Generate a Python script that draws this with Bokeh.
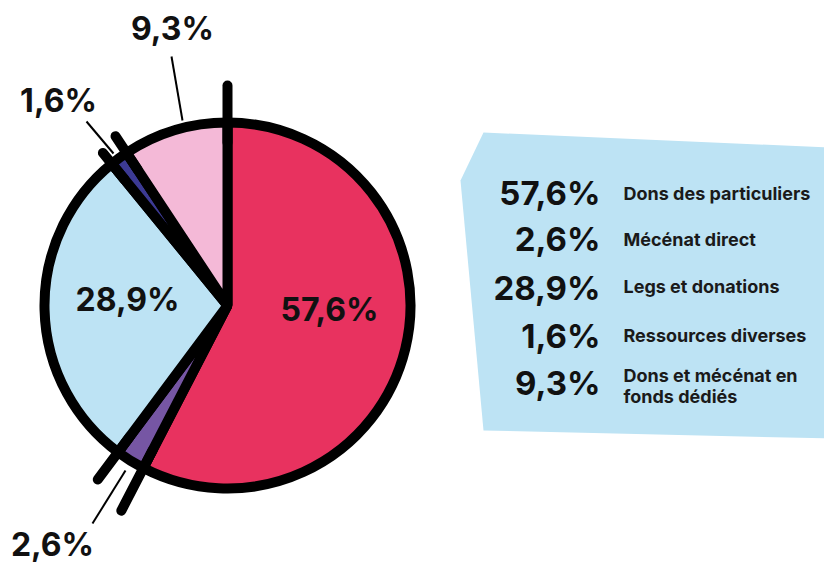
import math
from bokeh.plotting import figure
from bokeh.models import Range1d
from bokeh.core.properties import value
from bokeh.embed import file_html
from bokeh.resources import INLINE

# ---------------- data ----------------
values = [57.6, 2.6, 28.9, 1.6, 9.3]
pct_labels = ["57,6%", "2,6%", "28,9%", "1,6%", "9,3%"]
categories = ["Dons des particuliers", "Mécénat direct", "Legs et donations",
              "Ressources  diverses", "Dons et mécénat en\nfonds dédiés"]
colors = ["#e8325f", "#7656a4", "#bde3f4", "#3c3a94", "#f4b9d7"]

# ---------------- layout (image pixel coords, y down) ----------------
W, H = 824, 563
def Y(y):
    return H - y

FONT = value("Inter")
p = figure(width=W, height=H, x_range=Range1d(0, W), y_range=Range1d(0, H),
           output_backend="svg", toolbar_location=None, min_border=0)
p.axis.visible = False
p.grid.visible = False
p.outline_line_color = None
p.background_fill_color = "white"
p.border_fill_color = "white"

cx, cy, R = 227, Y(305), 183

# legend background polygon
p.patch([483, 830, 830, 483, 460], [Y(132), Y(147), Y(438), Y(430), Y(180)],
        fill_color="#bde3f4", line_color=None)

# wedges
cum = [0]
for v in values:
    cum.append(cum[-1] + v)
total = cum[-1]
starts = [math.pi / 2 - 2 * math.pi * c / total for c in cum[:-1]]
ends = [math.pi / 2 - 2 * math.pi * c / total for c in cum[1:]]
p.wedge(x=cx, y=cy, radius=R, start_angle=starts, end_angle=ends, direction="clock",
        fill_color=colors, line_color="black", line_width=10)

# spikes at boundaries
spike_len = [220, 231, 217, 197, 203]
bx0, by0, bx1, by1 = [], [], [], []
for c, L in zip(cum[:-1], spike_len):
    a = math.pi / 2 - 2 * math.pi * c / total
    bx0.append(cx + (R - 20) * math.cos(a)); by0.append(cy + (R - 20) * math.sin(a))
    bx1.append(cx + L * math.cos(a)); by1.append(cy + L * math.sin(a))
p.segment(bx0, by0, bx1, by1, line_color="black", line_width=10, line_cap="round")

# leader lines for small slices (annotation)
p.segment([182, 113, 125], [Y(120), Y(153), Y(470)], [171, 86, 92], [Y(56), Y(121), Y(523)],
          line_color="black", line_width=2)

# pie labels (y = visual centre of the glyphs)
lab_x = [329, 52, 127, 58, 172]
lab_y = [Y(309), Y(544), Y(299), Y(100), Y(28)]
p.text(x=lab_x, y=lab_y, text=pct_labels, text_font=FONT, text_font_style="bold",
       text_font_size="32px", text_align="center", text_baseline="alphabetic",
       text_color="#111111")

# legend
pct_base = [192, 238, 287, 335, 382]
p.text(x=[600] * 5, y=[Y(b) for b in pct_base], text=pct_labels, text_font=FONT,
       text_font_style="bold", text_font_size="33px", text_align="right",
       text_baseline="alphabetic", text_color="#111111")

cat_base = [193, 239, 286, 335, 375]
tx, ty, tt = [], [], []
for b, c in zip(cat_base, categories):
    for i, line in enumerate(c.split("\n")):
        tx.append(623); ty.append(Y(b + 21 * i)); tt.append(line)
p.text(x=tx, y=ty, text=tt, text_font=FONT, text_font_style="bold",
       text_font_size="18px", text_align="left", text_baseline="alphabetic",
       text_color="#1a1a1a")

open("out.html", "w").write(file_html(p, INLINE))
